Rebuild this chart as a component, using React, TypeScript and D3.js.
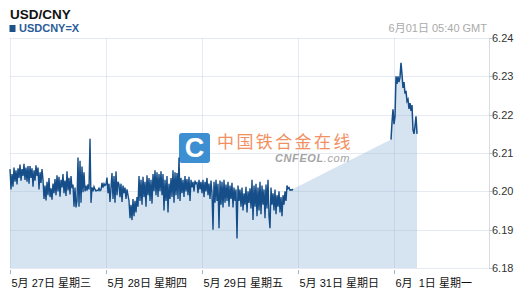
import React from "react";
import * as d3 from "d3";

const title = "USD/CNY";
const symbol = "USDCNY=X";
const stamp = "6月01日 05:40 GMT";

// x-axis: trading days (Saturday is skipped on this axis)
const dayLabels = ["5月 27日 星期三", "5月 28日 星期四", "5月 29日 星期五", "5月 31日 星期日", "6月  1日 星期一"];
const yTicks = [6.18, 6.19, 6.2, 6.21, 6.22, 6.23, 6.24];

// quotes every 15 minutes, hours counted on the axis (24 per shown day)
const weekStartHour = 0;
const mondayStartHour = 95.25;
const stepHours = 0.25;

const weekValues = [
  6.2058, 6.2005, 6.2045, 6.2012, 6.2062, 6.2025, 6.2055, 6.2018, 6.2060,
  6.2035, 6.2070, 6.2028, 6.2058, 6.2040, 6.2072, 6.2030, 6.2062, 6.2025, 6.2066,
  6.2020, 6.2066, 6.2035, 6.2060, 6.2012, 6.2055, 6.2028, 6.2068, 6.2040, 6.2062, 6.2005, 6.2050, 6.2022, 6.2058,
  6.2030, 6.1980, 6.2015, 6.1976, 6.2025, 6.1990, 6.2035, 6.1985, 6.2008, 6.1978, 6.2020, 6.1995, 6.2032,
  6.1990, 6.2042, 6.2000, 6.2038, 6.1986, 6.2030, 6.2010, 6.2045, 6.1995, 6.2028, 6.1988, 6.2052, 6.2002, 6.2035, 6.1992, 6.2040, 6.2008,
  6.2018, 6.1960, 6.2010, 6.1958, 6.1975,
  6.2088, 6.1960, 6.2080, 6.1970,
  6.2065, 6.1998, 6.2050, 6.2000,
  6.2015, 6.2002, 6.2018, 6.2005,
  6.2137, 6.1970,
  6.2010, 6.2000, 6.2012, 6.2005, 6.2001, 6.2003, 6.2002, 6.2008, 6.2002, 6.2004,
  6.2022, 6.2010, 6.2020, 6.2015, 6.2018,
  6.2036, 6.1995, 6.2020, 6.1972, 6.2010,
  6.2048, 6.1980, 6.2040, 6.1970, 6.2052, 6.1990, 6.2025,
  6.2018, 6.1985, 6.2020, 6.1972, 6.2015, 6.1995, 6.2010, 6.1980, 6.2005, 6.1990,
  6.1975, 6.1930, 6.1965, 6.1925, 6.1980, 6.1935, 6.1975, 6.1945, 6.1985, 6.1960,
  6.2040, 6.1975, 6.2030, 6.1965, 6.2038, 6.1985, 6.2025, 6.1960, 6.2042, 6.1990, 6.2035, 6.1975, 6.2030, 6.1968, 6.2045,
  6.2000, 6.2055, 6.1990, 6.2050, 6.1985, 6.2045, 6.2000, 6.2052,
  6.1990, 6.2045, 6.1950, 6.2030, 6.1975, 6.2040, 6.1945, 6.2020, 6.1980, 6.2035,
  6.1985, 6.2055, 6.1970, 6.2050, 6.1990, 6.2048, 6.1980,
  6.2088, 6.1975,
  6.2035, 6.1995, 6.2030, 6.1985, 6.2040, 6.2000, 6.2032, 6.1990, 6.2038, 6.1975, 6.2030,
  6.2010, 6.2025, 6.2000, 6.2028, 6.2020, 6.2022, 6.1995, 6.2030, 6.2005, 6.2025,
  6.1995, 6.2030, 6.1985, 6.2025, 6.2000, 6.2035, 6.1990, 6.2020, 6.1980, 6.2028, 6.1995,
  6.1900,
  6.2025, 6.1970, 6.2030, 6.1975, 6.2020, 6.1904, 6.2028, 6.1965, 6.2025, 6.1958, 6.2030, 6.1970, 6.2018,
  6.1975, 6.2025, 6.1960, 6.2015, 6.1980, 6.2022, 6.1958, 6.2010, 6.1975, 6.2005,
  6.1877,
  6.2015, 6.1975, 6.2005, 6.1960, 6.2010, 6.1950, 6.1995, 6.1965, 6.2012, 6.1945, 6.2000, 6.1970, 6.2008, 6.1955,
  6.2030, 6.1925,
  6.2015, 6.1960, 6.2020, 6.1935, 6.2010, 6.1950, 6.2025, 6.1940, 6.2015, 6.1965, 6.2005, 6.1930, 6.2018, 6.1955,
  6.2030, 6.1935, 6.1904,
  6.2010, 6.1965, 6.1995, 6.1950, 6.2005, 6.1940, 6.1990, 6.1960, 6.2000, 6.1945, 6.1985, 6.1935, 6.1990, 6.1965, 6.2000, 6.1975, 6.2015,
  6.2007, 6.2010, 6.2003, 6.2004, 6.2003, 6.2006,
];

const mondayValues = [
  6.2135, 6.2180, 6.2214, 6.2175, 6.2195, 6.2300, 6.2280, 6.2300, 6.2285, 6.2298,
  6.2335, 6.2305, 6.2270, 6.2285, 6.2255, 6.2262, 6.2235, 6.2240, 6.2215, 6.2230,
  6.2210, 6.2225, 6.2160, 6.2150, 6.2170, 6.2196, 6.2150,
];

type Pt = { h: number; v: number };

export default function App() {
  const W = 530;
  const H = 297;
  const left = 10;
  const right = 490;
  const top = 38;
  const bottom = 268;

  const x = d3.scaleLinear().domain([0, 24 * dayLabels.length]).range([left, right]);
  const y = d3.scaleLinear().domain([6.18, 6.24]).range([bottom, top]);

  const week: Pt[] = weekValues.map((v, i) => ({ h: weekStartHour + i * stepHours, v }));
  const mon: Pt[] = mondayValues.map((v, i) => ({ h: mondayStartHour + i * stepHours, v }));
  const all = week.concat(mon);

  const area = d3
    .area<Pt>()
    .x((d) => x(d.h))
    .y0(bottom)
    .y1((d) => y(d.v));
  const line = d3
    .line<Pt>()
    .x((d) => x(d.h))
    .y((d) => y(d.v));

  const font = "'Liberation Sans', Arial, 'Noto Sans CJK SC', sans-serif";
  const grid = "rgba(140,165,200,0.22)";

  return (
    <svg
      width={W}
      height={H}
      style={{ position: "absolute", left: 0, top: 0, display: "block", background: "#fff" }}
      fontFamily={font}
    >
      <text x={10} y={19} fontSize={13.5} fontWeight="bold" fill="#111">
        {title}
      </text>
      <rect x={9.5} y={25} width={6} height={7} fill="#1c5189" />
      <text x={19} y={32} fontSize={11} fontWeight="bold" fill="#2a5d98">
        {symbol}
      </text>
      <text x={487} y={32} fontSize={11} fill="#aaaaaa" textAnchor="end">
        {stamp}
      </text>

      {/* area */}
      <path d={area(all) ?? ""} fill="#d5e4f0" />

      {/* grid */}
      {yTicks.map((t) => (
        <line key={"g" + t} x1={left} x2={right - 1} y1={Math.round(y(t)) + 0.5} y2={Math.round(y(t)) + 0.5} stroke={grid} />
      ))}
      {dayLabels.map((_, i) => (
        <line key={"v" + i} x1={Math.round(x(i * 24)) + 0.5} x2={Math.round(x(i * 24)) + 0.5} y1={top} y2={bottom} stroke={grid} />
      ))}
      <line x1={right - 0.5} x2={right - 0.5} y1={top} y2={bottom} stroke="#d8dde3" />

      {/* watermark */}
      <g>
        <rect x={179} y={133} width={31} height={30} rx={3} fill="#3d8fd1" />
        <text x={194.5} y={157} fontSize={27} fontWeight="bold" fill="#fff" textAnchor="middle" fontFamily="'Liberation Sans', Arial, sans-serif">
          C
        </text>
        <text x={217} y={148} fontSize={17} fill="#f19163" letterSpacing={2.4} fontFamily="'Noto Sans CJK SC', sans-serif">
          中国铁合金在线
        </text>
        <text x={275} y={162} fontSize={11} fill="#a5a5a5" fontStyle="italic" letterSpacing={0.6}>
          <tspan fontWeight="bold">CNFEOL</tspan>
          <tspan>.com</tspan>
        </text>
      </g>

      {/* lines */}
      <path d={line(week) ?? ""} fill="none" stroke="#164e89" strokeWidth={1.4} strokeLinejoin="miter" />
      <path d={line(mon) ?? ""} fill="none" stroke="#164e89" strokeWidth={1.5} />

      {/* y axis */}
      {yTicks.map((t) => (
        <g key={"t" + t}>
          <line x1={right - 1} x2={right + 2} y1={Math.round(y(t)) + 0.5} y2={Math.round(y(t)) + 0.5} stroke="#c0c8d0" />
          <text x={right + 2} y={y(t) + 4} fontSize={11} fill="#333">
            {t.toFixed(2)}
          </text>
        </g>
      ))}

      {/* x axis */}
      {dayLabels.map((d, i) => (
        <g key={"x" + i}>
          <line x1={Math.round(x(i * 24)) + 0.5} x2={Math.round(x(i * 24)) + 0.5} y1={270} y2={274} stroke="#9fb3c8" />
          <text x={x(i * 24) + 1.5} y={287} fontSize={11} fill="#111" style={{ whiteSpace: "pre" }}>
            {d}
          </text>
        </g>
      ))}
    </svg>
  );
}
